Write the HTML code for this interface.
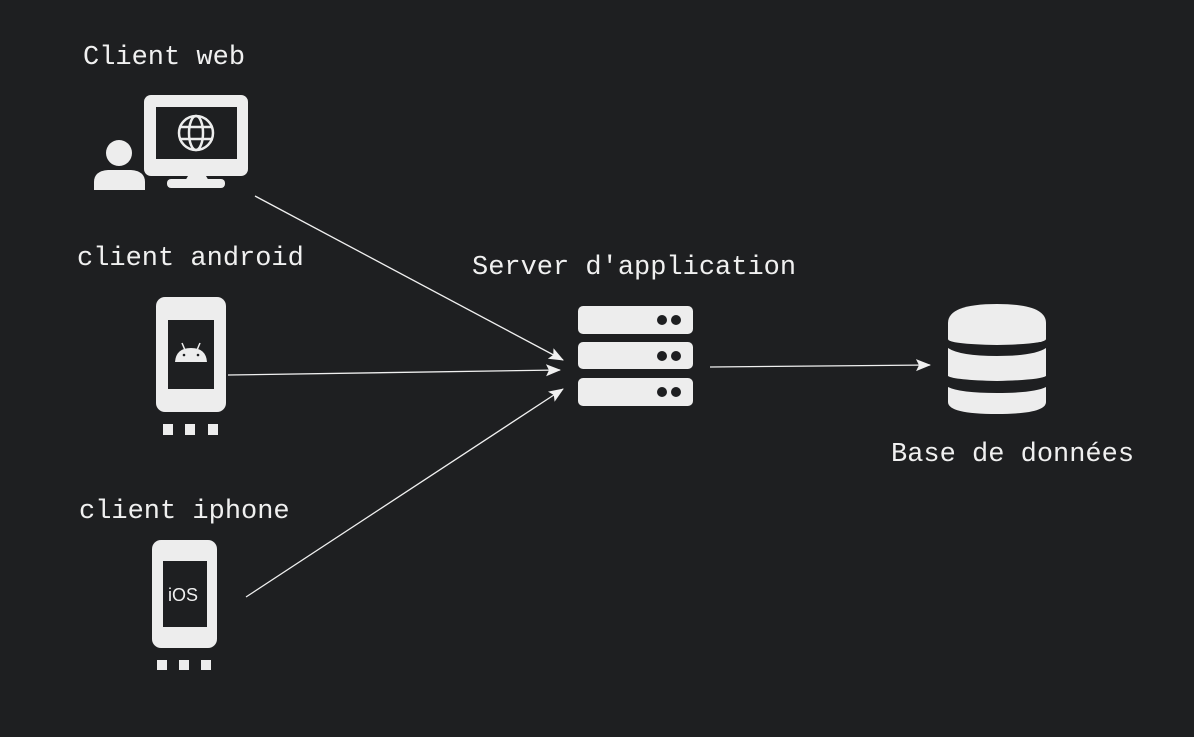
<!DOCTYPE html>
<html><head><meta charset="utf-8"><style>
html,body{margin:0;padding:0;background:#1e1f21;}
svg{display:block}
text{font-family:"Liberation Mono","DejaVu Sans Mono",monospace;font-size:27px;fill:#f0f0f0}
</style></head><body>
<svg width="1194" height="737" viewBox="0 0 1194 737" xmlns="http://www.w3.org/2000/svg">
<rect width="1194" height="737" fill="#1e1f21"/>
<defs><marker id="a" markerWidth="16" markerHeight="14" refX="14" refY="6" orient="auto" markerUnits="userSpaceOnUse"><path d="M0,0 L15,6 L0,12 L3,6Z" fill="#f0f0f0"/></marker></defs>
<g fill="#ededed">
<rect x="144" y="95" width="104" height="81" rx="7"/>
<rect x="156" y="107" width="81" height="52" fill="#1e1f21"/>
<path d="M188 176 L206 176 L209 181 L185 181Z"/>
<rect x="167" y="179" width="58" height="9" rx="4"/>
<circle cx="119" cy="153" r="13"/>
<path d="M94 190 L94 182 Q94 171 108 170 L131 170 Q145 171 145 182 L145 190Z"/>
<g fill="none" stroke="#ededed" stroke-width="2.5"><circle cx="196" cy="133" r="17"/><ellipse cx="196" cy="133" rx="7" ry="17"/><line x1="179" y1="127" x2="213" y2="127"/><line x1="179" y1="139" x2="213" y2="139"/></g>
<rect x="156" y="297" width="70" height="115" rx="9"/>
<rect x="168" y="320" width="46" height="69" fill="#1e1f21"/>
<path d="M175 362 Q176 348 191 348 Q206 348 207 362Z"/>
<line x1="182" y1="343" x2="185" y2="350" stroke="#ededed" stroke-width="1.5"/><line x1="200" y1="343" x2="197" y2="350" stroke="#ededed" stroke-width="1.5"/>
<circle cx="184" cy="355" r="1.3" fill="#1e1f21"/><circle cx="198" cy="355" r="1.3" fill="#1e1f21"/>
<rect x="163" y="424" width="10" height="11"/><rect x="185" y="424" width="10" height="11"/><rect x="208" y="424" width="10" height="11"/>
<rect x="152" y="540" width="65" height="108" rx="9"/>
<rect x="163" y="561" width="44" height="66" fill="#1e1f21"/>
<rect x="157" y="660" width="10" height="10"/><rect x="179" y="660" width="10" height="10"/><rect x="201" y="660" width="10" height="10"/>
<rect x="578" y="306" width="115" height="28" rx="5"/>
<rect x="578" y="342" width="115" height="27" rx="5"/>
<rect x="578" y="378" width="115" height="28" rx="5"/>
<g fill="#1e1f21"><circle cx="662" cy="320" r="5"/><circle cx="676" cy="320" r="5"/><circle cx="662" cy="356" r="5"/><circle cx="676" cy="356" r="5"/><circle cx="662" cy="392" r="5"/><circle cx="676" cy="392" r="5"/></g>
<path d="M948 323 Q948 304 997 304 Q1046 304 1046 323 L1046 339 Q1046 344 997 345 Q948 344 948 339Z"/>
<path d="M948 348 Q960 356 997 356 Q1034 356 1046 348 L1046 376 Q1040 380 997 381 Q954 380 948 376Z"/>
<path d="M948 387 Q960 393 997 393 Q1034 393 1046 387 L1046 402 Q1046 414 997 414 Q948 414 948 402Z"/>
</g>
<text x="168" y="601" style="font-family:'Liberation Sans',sans-serif;font-size:18px">iOS</text>
<g stroke="#f0f0f0" stroke-width="1.3" fill="none" marker-end="url(#a)">
<line x1="255" y1="196" x2="563" y2="360"/>
<line x1="228" y1="375" x2="560" y2="370"/>
<line x1="246" y1="597" x2="563" y2="389"/>
<line x1="710" y1="367" x2="930" y2="365"/>
</g>
<text x="83" y="64">Client web</text>
<text x="77" y="265">client android</text>
<text x="472" y="274">Server d'application</text>
<text x="891" y="461">Base de données</text>
<text x="79" y="518">client iphone</text>
</svg>
</body></html>
